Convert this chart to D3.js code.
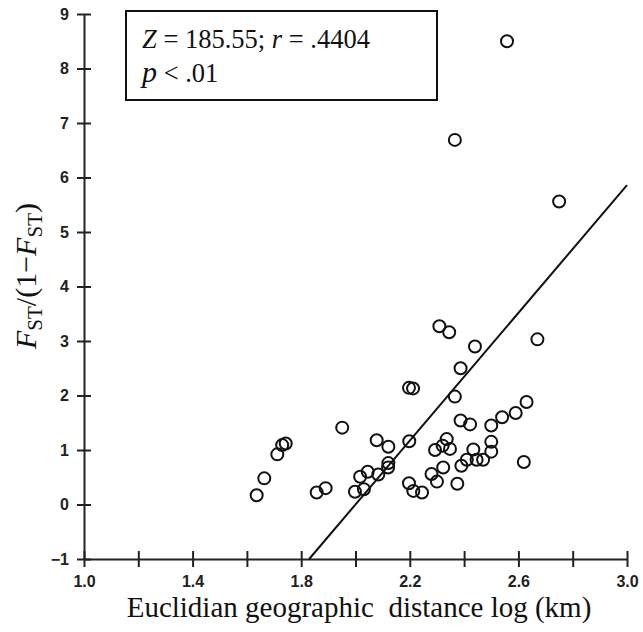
<!DOCTYPE html>
<html>
<head>
<meta charset="utf-8">
<script src="https://cdn.jsdelivr.net/npm/d3@7"></script>
<style>
  body { margin: 0; background: #fff; }
  svg { display: block; }
</style>
</head>
<body>
<div id="chart"></div>
<script>
// log distance (km) per population pair
const distance = [2.558, 2.366, 2.75, 2.309, 2.345, 2.44, 2.387, 2.197, 2.212, 2.366,
  1.951, 2.387, 2.422, 1.743, 1.730, 1.712, 1.664, 1.636, 1.857, 1.890,
  2.078, 2.121, 2.198, 2.121, 2.120, 2.084, 2.045, 2.017, 1.998, 2.031,
  2.197, 2.213, 2.245, 2.293, 2.321, 2.336, 2.348, 2.280, 2.300, 2.323,
  2.375, 2.390, 2.410, 2.434, 2.446, 2.500, 2.500, 2.540, 2.590, 2.630,
  2.500, 2.470, 2.620, 2.670];
// Fst/(1-Fst)
const fstRatio = [8.50, 6.69, 5.56, 3.27, 3.16, 2.90, 2.50, 2.14, 2.13, 1.98,
  1.41, 1.54, 1.47, 1.12, 1.09, 0.92, 0.48, 0.17, 0.22, 0.30,
  1.18, 1.06, 1.16, 0.76, 0.68, 0.55, 0.60, 0.51, 0.235, 0.28,
  0.39, 0.25, 0.22, 1.00, 1.08, 1.20, 1.02, 0.56, 0.42, 0.68,
  0.38, 0.71, 0.82, 1.01, 0.82, 1.15, 1.45, 1.60, 1.68, 1.88,
  0.97, 0.82, 0.78, 3.03];
// regression line
const slope = 5.86, intercept = -11.72;

const xTicks = [1.0, 1.2, 1.4, 1.6, 1.8, 2.0, 2.2, 2.4, 2.6, 2.8, 3.0];
const xLabels = [1.0, 1.4, 1.8, 2.2, 2.6, 3.0];
const yTicks = [-1, 0, 1, 2, 3, 4, 5, 6, 7, 8, 9];

const width = 643, height = 632;
const svg = d3.select('#chart').append('svg')
  .attr('width', width)
  .attr('height', height);

const x = d3.scaleLinear().domain([1, 3]).range([84, 627]);
const y = d3.scaleLinear().domain([-1, 9]).range([559, 14]);

const tickFont = '"Liberation Sans", Arial, sans-serif';
const serif = '"Liberation Serif", "Times New Roman", serif';
const isLabel = d => xLabels.some(v => Math.abs(v - d) < 1e-9);

// x axis
svg.append('g')
  .attr('transform', `translate(0,${y(-1)})`)
  .call(d3.axisBottom(x).tickValues(xTicks).tickSizeOuter(0).tickFormat(d3.format('.1f')))
  .call(g => g.select('.domain').attr('stroke', '#222').attr('stroke-width', 2))
  .call(g => g.selectAll('.tick line').attr('y1', -8).attr('y2', 8)
              .attr('stroke', '#222').attr('stroke-width', 2))
  .call(g => g.selectAll('.tick text').filter(d => !isLabel(d)).remove())
  .call(g => g.selectAll('.tick text').attr('y', 28).attr('dy', 0)
              .attr('fill', '#222').style('font', `bold 16px ${tickFont}`));

// y axis
svg.append('g')
  .attr('transform', `translate(${x(1)},0)`)
  .call(d3.axisLeft(y).tickValues(yTicks).tickSizeOuter(0).tickFormat(d3.format('d')))
  .call(g => g.select('.domain').attr('stroke', '#222').attr('stroke-width', 2))
  .call(g => g.selectAll('.tick line').attr('x1', -7).attr('x2', 7)
              .attr('stroke', '#222').attr('stroke-width', 2))
  .call(g => g.selectAll('.tick text').attr('x', -15)
              .attr('fill', '#222').style('font', `bold 16px ${tickFont}`));

// regression line
const xStart = (-1 - intercept) / slope;
svg.append('path')
  .datum([xStart, 3])
  .attr('fill', 'none')
  .attr('stroke', '#111')
  .attr('stroke-width', 2)
  .attr('d', d3.line().x(d => x(d)).y(d => y(intercept + slope * d)));

// points
svg.append('g')
  .selectAll('circle')
  .data(distance.map((d, i) => [d, fstRatio[i]]))
  .join('circle')
    .attr('cx', d => x(d[0]))
    .attr('cy', d => y(d[1]))
    .attr('r', 6)
    .attr('fill', 'none')
    .attr('stroke', '#111')
    .attr('stroke-width', 2);

// stats box
svg.append('rect')
  .attr('x', 126).attr('y', 11)
  .attr('width', 311).attr('height', 89)
  .attr('fill', '#fff')
  .attr('stroke', '#111')
  .attr('stroke-width', 2);

const t1 = svg.append('text')
  .attr('x', 142).attr('y', 48)
  .style('font-family', serif).style('font-size', '26.5px').attr('fill', '#111');
t1.append('tspan').style('font-style', 'italic').text('Z');
t1.append('tspan').text(' = 185.55; ');
t1.append('tspan').style('font-style', 'italic').text('r');
t1.append('tspan').text(' = .4404');

const t2 = svg.append('text')
  .attr('x', 142).attr('y', 82)
  .style('font-family', serif).style('font-size', '26.5px').attr('fill', '#111');
t2.append('tspan').style('font-style', 'italic').style('font-size', '30px').text('p');
t2.append('tspan').text(' < .01');

// axis titles
svg.append('text')
  .attr('x', 359).attr('y', 617)
  .attr('text-anchor', 'middle')
  .style('font-family', serif).style('font-size', '29px').attr('fill', '#111')
  .style('white-space', 'pre')
  .text('Euclidian geographic  distance log (km)');

const yt = svg.append('text')
  .attr('transform', 'translate(36,276) rotate(-90)')
  .attr('text-anchor', 'middle')
  .style('font-family', serif).style('font-size', '30px').attr('fill', '#111');
yt.append('tspan').style('font-style', 'italic').text('F');
yt.append('tspan').attr('dy', 6).style('font-size', '21px').text('ST');
yt.append('tspan').attr('dy', -6).text('/(1−');
yt.append('tspan').style('font-style', 'italic').text('F');
yt.append('tspan').attr('dy', 6).style('font-size', '21px').text('ST');
yt.append('tspan').attr('dy', -6).text(')');
</script>
</body>
</html>
